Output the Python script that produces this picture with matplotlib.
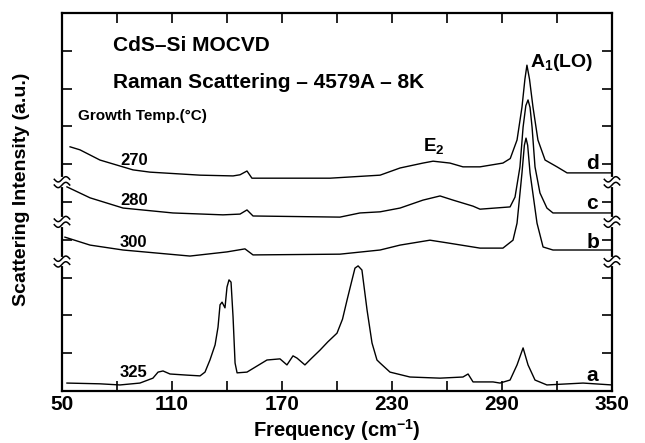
import numpy as np
import matplotlib
matplotlib.use("Agg")
import matplotlib.pyplot as plt
import matplotlib.transforms as mtransforms

plt.rcParams["font.family"] = ["Liberation Sans", "DejaVu Sans"]

# ── Spectra (frequency in cm^-1, intensity in offset plot units) ──
# a : 325 C
freq_a = [52.7, 70.7, 81.6, 92.5, 99.6, 102.4, 105.1, 108.9, 118.2, 125.3,
          128.0, 130.7, 133.5, 135.1, 136.2, 137.3, 138.9, 140.0, 141.1, 142.2,
          143.3, 144.4, 145.5, 150.9, 161.8, 168.9, 172.7, 176.0, 178.2, 182.5,
          186.0, 190.7, 195.0, 200.0, 203.0, 205.5, 208.2, 209.8, 211.5, 213.6,
          216.4, 219.1, 221.8, 223.5, 228.9, 239.8, 256.2, 268.7, 271.5, 274.2,
          285.1, 288.9, 294.4, 298.2, 301.5, 304.2, 308.0, 314.5, 334.2, 350.0]
int_a = [0.21, 0.19, 0.16, 0.21, 0.34, 0.50, 0.53, 0.45, 0.42, 0.40,
         0.50, 0.82, 1.22, 1.69, 2.28, 2.35, 2.20, 2.75, 2.94, 2.88,
         1.96, 0.74, 0.48, 0.50, 0.82, 0.85, 0.69, 0.93, 0.87, 0.69,
         0.86, 1.08, 1.30, 1.53, 1.90, 2.41, 2.94, 3.25, 3.31, 3.20,
         2.14, 1.27, 0.82, 0.74, 0.50, 0.37, 0.34, 0.37, 0.45, 0.24,
         0.24, 0.21, 0.29, 0.69, 1.14, 0.69, 0.29, 0.16, 0.21, 0.16]

# b : 300 C
freq_b = [51.6, 65.3, 83.3, 119.8, 140.0, 149.8, 154.2, 201.6, 223.5, 234.4,
          250.7, 260.0, 278.0, 290.5, 296.0, 298.2, 300.9, 302.2, 303.1, 304.0,
          305.3, 309.1, 312.4, 317.8, 350.0]
int_b = [4.07, 3.86, 3.73, 3.57, 3.68, 3.76, 3.60, 3.62, 3.73, 3.86,
         3.99, 3.92, 3.78, 3.78, 3.99, 4.44, 5.77, 6.50, 6.69, 6.50,
         5.77, 4.44, 3.81, 3.73, 3.73]

# c : 280 C
freq_c = [52.7, 65.3, 83.3, 110.5, 137.8, 147.1, 150.9, 154.2, 201.6, 212.5,
          223.5, 234.4, 246.9, 256.2, 263.3, 274.2, 278.0, 294.4, 297.1, 299.8,
          301.5, 303.0, 304.2, 305.3, 306.4, 308.0, 310.7, 314.5, 317.8, 350.0]
int_c = [5.40, 5.11, 4.84, 4.71, 4.66, 4.68, 4.79, 4.63, 4.60, 4.71,
         4.74, 4.84, 5.05, 5.16, 5.05, 4.89, 4.81, 4.87, 5.13, 5.93,
         6.98, 7.55, 7.70, 7.50, 6.98, 5.93, 5.24, 4.84, 4.71, 4.71]

# d : 270 C
freq_d = [54.4, 59.8, 70.7, 88.7, 98.0, 125.3, 143.3, 147.1, 150.9, 153.6,
          196.2, 223.5, 234.4, 246.9, 252.4, 261.6, 268.7, 278.0, 290.5, 294.5,
          298.2, 300.9, 302.5, 303.6, 305.0, 306.9, 309.6, 313.5, 320.0, 325.5,
          350.0]
int_d = [6.46, 6.38, 6.11, 5.85, 5.79, 5.71, 5.69, 5.72, 5.82, 5.63,
         5.63, 5.71, 5.90, 6.03, 6.08, 6.03, 5.93, 5.93, 6.03, 6.15,
         6.64, 7.51, 8.25, 8.62, 8.25, 7.51, 6.64, 6.11, 5.93, 5.77,
         5.77]

x_major = [50, 110, 170, 230, 290, 350]
x_minor = [80, 140, 200, 260, 320]
y_ticks = [1, 2, 3, 4, 5, 6, 7, 8, 9]
breaks = [(3.50, 3.35), (4.55, 4.40), (5.60, 5.45)]

fig = plt.figure(figsize=(6.45, 4.43), dpi=100)
ax = fig.add_axes([62 / 645, 1 - 391 / 443, 550 / 645, 378 / 443])

for fx, iy in [(freq_a, int_a), (freq_b, int_b), (freq_c, int_c), (freq_d, int_d)]:
    ax.plot(fx, iy, color="black", lw=1.0)

ax.set_xlim(50, 350)
ax.set_ylim(0, 10)
ax.set_xticks(x_major)
ax.set_xticks(x_minor, minor=True)
ax.set_yticks(y_ticks)
ax.set_yticklabels([])
ax.tick_params(which="both", direction="in", length=7, width=1.2,
               top=True, right=True, labelsize=15)
ax.tick_params(axis="x", pad=3)
for lab in ax.get_xticklabels():
    lab.set_fontweight("bold")
for s in ax.spines.values():
    s.set_linewidth(1.6)

# axis breaks (squiggles on both vertical axes)
trans = mtransforms.blended_transform_factory(ax.transAxes, ax.transData)
t = np.linspace(-1, 1, 30)
for xa in (0.0, 1.0):
    for y1, y2 in breaks:
        ax.plot([xa, xa], [y1, y2], color="white", lw=3, transform=trans,
                clip_on=False, zorder=5)
        for yb in (y1, y2):
            ax.plot(xa + 0.014 * t, yb + 0.07 * np.sin(np.pi * t), color="black",
                    lw=1.1, transform=trans, clip_on=False, zorder=6)

bold = dict(fontweight="bold", color="black")
ax.text(77.8, 9.14, "CdS–Si MOCVD", fontsize=15, va="center", **bold)
ax.text(77.8, 8.17, "Raman Scattering – 4579A – 8K", fontsize=15, va="center", **bold)
ax.text(58.7, 7.28, "Growth Temp.(°C)", fontsize=11, va="center", **bold)
for lbl, yy in [("270", 6.11), ("280", 5.05), ("300", 3.92), ("325", 0.48)]:
    ax.text(81.6, yy, lbl, fontsize=12, va="center", **bold)
ax.text(247, 6.45, r"E$_\mathregular{2}$", fontsize=13.5, va="center", **bold)
ax.text(305.3, 8.70, r"A$_\mathregular{1}$(LO)", fontsize=14, va="center", **bold)
for lbl, yy in [("d", 6.03), ("c", 4.95), ("b", 3.92), ("a", 0.42)]:
    ax.text(336.0, yy, lbl, fontsize=15, va="center", **bold)

fig.text(337 / 645, 1 - 430 / 443, r"Frequency (cm$^\mathregular{-1}$)",
         ha="center", va="center", fontsize=14.5, **bold)
fig.text(22 / 645, 1 - 189 / 443, "Scattering Intensity (a.u.)", rotation=90,
         ha="center", va="center", fontsize=14, **bold)

fig.savefig("out.png", dpi=100)
